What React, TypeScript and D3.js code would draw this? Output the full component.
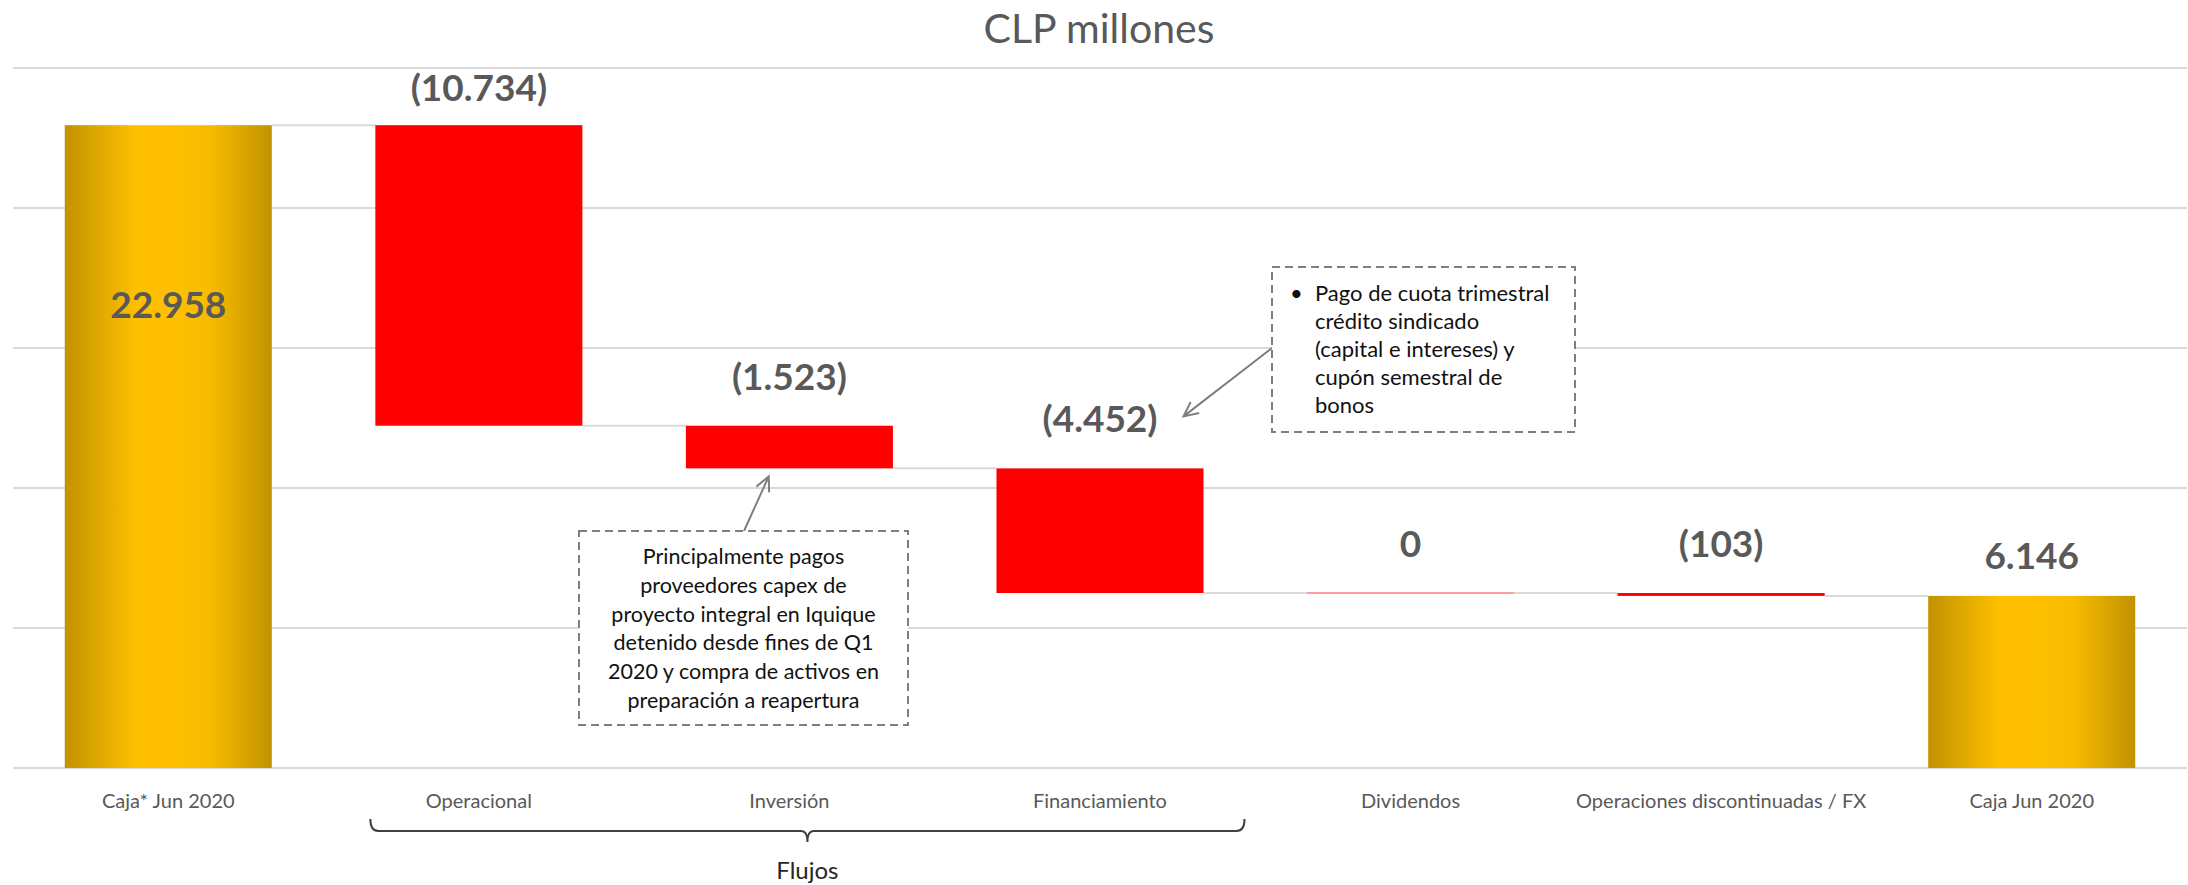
import { useRef, useEffect } from 'react';
import * as d3 from 'd3';

// waterfall data (CLP millones)
const categories = [
    'Caja* Jun 2020',
    'Operacional',
    'Inversión',
    'Financiamiento',
    'Dividendos',
    'Operaciones discontinuadas / FX',
    'Caja Jun 2020'
];
const values = [22958, -10734, -1523, -4452, 0, -103, 6146];
const barKinds = ['total', 'flow', 'flow', 'flow', 'flow', 'flow', 'total'];
const yTicks = [0, 5000, 10000, 15000, 20000, 25000];

const inversionNote = [
    'Principalmente pagos',
    'proveedores capex de',
    'proyecto integral en Iquique',
    'detenido desde fines de Q1',
    '2020 y compra de activos en',
    'preparación a reapertura'
];
const financiamientoNote = [
    'Pago de cuota trimestral',
    'crédito sindicado',
    '(capital e intereses) y',
    'cupón semestral de',
    'bonos'
];

const FONT = "Lato, 'Open Sans', sans-serif";

const clLocale = d3.formatLocale({ decimal: ',', thousands: '.', grouping: [3], currency: ['$', ''] });
const fmt = clLocale.format(',.0f');
const labelText = (v: number) => (v < 0 ? `(${fmt(-v)})` : fmt(v));

const WaterfallChart = () => {
    const svgRef = useRef<SVGSVGElement | null>(null);

    const renderChart = () => {
        const svgElement = svgRef.current;
        if (!svgElement) return;

        const width = 2188;
        const height = 885;
        const margin = { top: 68, right: 1, bottom: 117, left: 13 };

        const svg = d3.select(svgElement)
            .attr('width', width)
            .attr('height', height);

        svg.selectAll('*').remove();

        // running totals
        let running = 0;
        const bars = categories.map((c, i) => {
            let start: number, end: number;
            if (barKinds[i] === 'total') {
                start = 0;
                end = values[i];
                running = values[i];
            } else {
                start = running;
                end = running + values[i];
                running = end;
            }
            return { cat: c, value: values[i], kind: barKinds[i], start, end, i };
        });

        const x = d3.scaleBand()
            .domain(categories)
            .range([margin.left, width - margin.right])
            .paddingInner(1 / 3)
            .paddingOuter(1 / 6);
        const bw = x.bandwidth();

        const y = d3.scaleLinear()
            .domain([0, 25000])
            .range([height - margin.bottom, margin.top]);

        const defs = svg.append('defs');
        const grad = defs.append('linearGradient')
            .attr('id', 'gold')
            .attr('x1', '0%').attr('x2', '100%')
            .attr('y1', '0%').attr('y2', '0%');
        [[0, '#C29300'], [0.35, '#FFC000'], [0.55, '#FDBF00'], [0.7, '#F7BB00'], [1, '#C29300']]
            .forEach(([o, c]) => grad.append('stop').attr('offset', o as number).attr('stop-color', c as string));

        // title
        svg.append('text')
            .attr('x', 1099)
            .attr('y', 43)
            .attr('text-anchor', 'middle')
            .style('font-family', FONT)
            .style('font-size', '41px')
            .style('fill', '#595959')
            .text('CLP millones');

        // gridlines
        svg.append('g')
            .selectAll('line')
            .data(yTicks)
            .join('line')
            .attr('x1', margin.left)
            .attr('x2', width - margin.right)
            .attr('y1', d => y(d))
            .attr('y2', d => y(d))
            .attr('stroke', '#D9D9D9')
            .attr('stroke-width', 2);

        // connectors
        svg.append('g')
            .selectAll('line')
            .data(bars.slice(0, -1))
            .join('line')
            .attr('x1', d => (x(d.cat) as number) + bw)
            .attr('x2', d => x(categories[d.i + 1]) as number)
            .attr('y1', d => y(d.end))
            .attr('y2', d => y(d.end))
            .attr('stroke', '#D9D9D9')
            .attr('stroke-width', 2);

        // bars
        bars.forEach(d => {
            const top = y(Math.max(d.start, d.end));
            const bottom = y(Math.min(d.start, d.end));
            if (bottom - top < 1) {
                svg.append('line')
                    .attr('x1', x(d.cat) as number)
                    .attr('x2', (x(d.cat) as number) + bw)
                    .attr('y1', top)
                    .attr('y2', top)
                    .attr('stroke', '#FF9E9E')
                    .attr('stroke-width', 2);
            } else {
                svg.append('rect')
                    .attr('x', x(d.cat) as number)
                    .attr('y', top)
                    .attr('width', bw)
                    .attr('height', bottom - top)
                    .attr('fill', d.kind === 'total' ? 'url(#gold)' : '#FF0000');
            }
        });

        // value labels
        svg.append('g')
            .selectAll('text')
            .data(bars)
            .join('text')
            .attr('x', d => (x(d.cat) as number) + bw / 2)
            .attr('y', d => {
                const top = y(Math.max(d.start, d.end));
                if (d.i === 0) return y(d.value * 0.7); // inside first bar
                if (d.kind === 'total') return top - 27;
                return Math.max(top - 36, margin.top + 33);
            })
            .attr('text-anchor', 'middle')
            .style('font-family', FONT)
            .style('font-size', '37px')
            .style('font-weight', 700)
            .style('fill', '#595959')
            .text(d => labelText(d.value));

        // category labels
        svg.append('g')
            .selectAll('text')
            .data(categories)
            .join('text')
            .attr('x', d => (x(d) as number) + bw / 2)
            .attr('y', height - margin.bottom + 40)
            .attr('text-anchor', 'middle')
            .style('font-family', FONT)
            .style('font-size', '20px')
            .style('fill', '#595959')
            .text(d => d);

        // brace under the "Flujos" group
        const bx0 = (x('Operacional') as number) - 5;
        const bx1 = (x('Financiamiento') as number) + bw + 41;
        const bcx = (bx0 + bx1) / 2;
        const by = 831;
        svg.append('path')
            .attr('d', `M${bx0},${by - 12} Q${bx0},${by} ${bx0 + 8},${by} L${bcx - 6},${by} Q${bcx},${by} ${bcx},${by + 11} Q${bcx},${by} ${bcx + 6},${by} L${bx1 - 8},${by} Q${bx1},${by} ${bx1},${by - 12}`)
            .attr('fill', 'none')
            .attr('stroke', '#404040')
            .attr('stroke-width', 2);

        svg.append('text')
            .attr('x', bcx)
            .attr('y', 879)
            .attr('text-anchor', 'middle')
            .style('font-family', FONT)
            .style('font-size', '24px')
            .style('fill', '#262626')
            .text('Flujos');

        const arrow = (x1: number, y1: number, x2: number, y2: number) => {
            const ang = Math.atan2(y2 - y1, x2 - x1);
            const len = 16;
            const a1 = ang + Math.PI - 0.45;
            const a2 = ang + Math.PI + 0.45;
            svg.append('path')
                .attr('d', `M${x1},${y1} L${x2},${y2} M${x2 + len * Math.cos(a1)},${y2 + len * Math.sin(a1)} L${x2},${y2} L${x2 + len * Math.cos(a2)},${y2 + len * Math.sin(a2)}`)
                .attr('fill', 'none')
                .attr('stroke', '#7F7F7F')
                .attr('stroke-width', 2);
        };

        // note for Inversión
        const n1 = { x: 579, y: 531, w: 329, h: 194 };
        const inv = bars[2];
        arrow(n1.x + 165, n1.y, (x(inv.cat) as number) + bw * 0.4, y(inv.end) + 8);
        svg.append('rect')
            .attr('x', n1.x).attr('y', n1.y)
            .attr('width', n1.w).attr('height', n1.h)
            .attr('fill', '#FFFFFF')
            .attr('stroke', '#7F7F7F')
            .attr('stroke-width', 2)
            .attr('stroke-dasharray', '8,5');
        svg.append('g')
            .selectAll('text')
            .data(inversionNote)
            .join('text')
            .attr('x', n1.x + n1.w / 2)
            .attr('y', (_, i) => n1.y + 33 + i * 28.8)
            .attr('text-anchor', 'middle')
            .style('font-family', FONT)
            .style('font-size', '21.5px')
            .style('fill', '#111')
            .text(d => d);

        // note for Financiamiento
        const n2 = { x: 1272, y: 267, w: 303, h: 165 };
        const fin = bars[3];
        arrow(n2.x, n2.y + 81, (x(fin.cat) as number) + bw - 20, y(fin.start) - 52);
        svg.append('rect')
            .attr('x', n2.x).attr('y', n2.y)
            .attr('width', n2.w).attr('height', n2.h)
            .attr('fill', '#FFFFFF')
            .attr('stroke', '#7F7F7F')
            .attr('stroke-width', 2)
            .attr('stroke-dasharray', '8,5');
        svg.append('text')
            .attr('x', n2.x + 18)
            .attr('y', n2.y + 34)
            .style('font-family', FONT)
            .style('font-size', '22px')
            .style('fill', '#111')
            .text('•');
        svg.append('g')
            .selectAll('text')
            .data(financiamientoNote)
            .join('text')
            .attr('x', n2.x + 43)
            .attr('y', (_, i) => n2.y + 34 + i * 28)
            .style('font-family', FONT)
            .style('font-size', '22px')
            .style('fill', '#111')
            .text(d => d);
    };

    useEffect(() => {
        renderChart();
    }, []);

    return (
        <div style={{ position: 'fixed', left: 0, top: 0, width: 2188, height: 885, background: '#fff' }}>
            <svg ref={svgRef} style={{ display: 'block' }}></svg>
        </div>
    );
};

export default function App() {
    return <WaterfallChart />;
}
